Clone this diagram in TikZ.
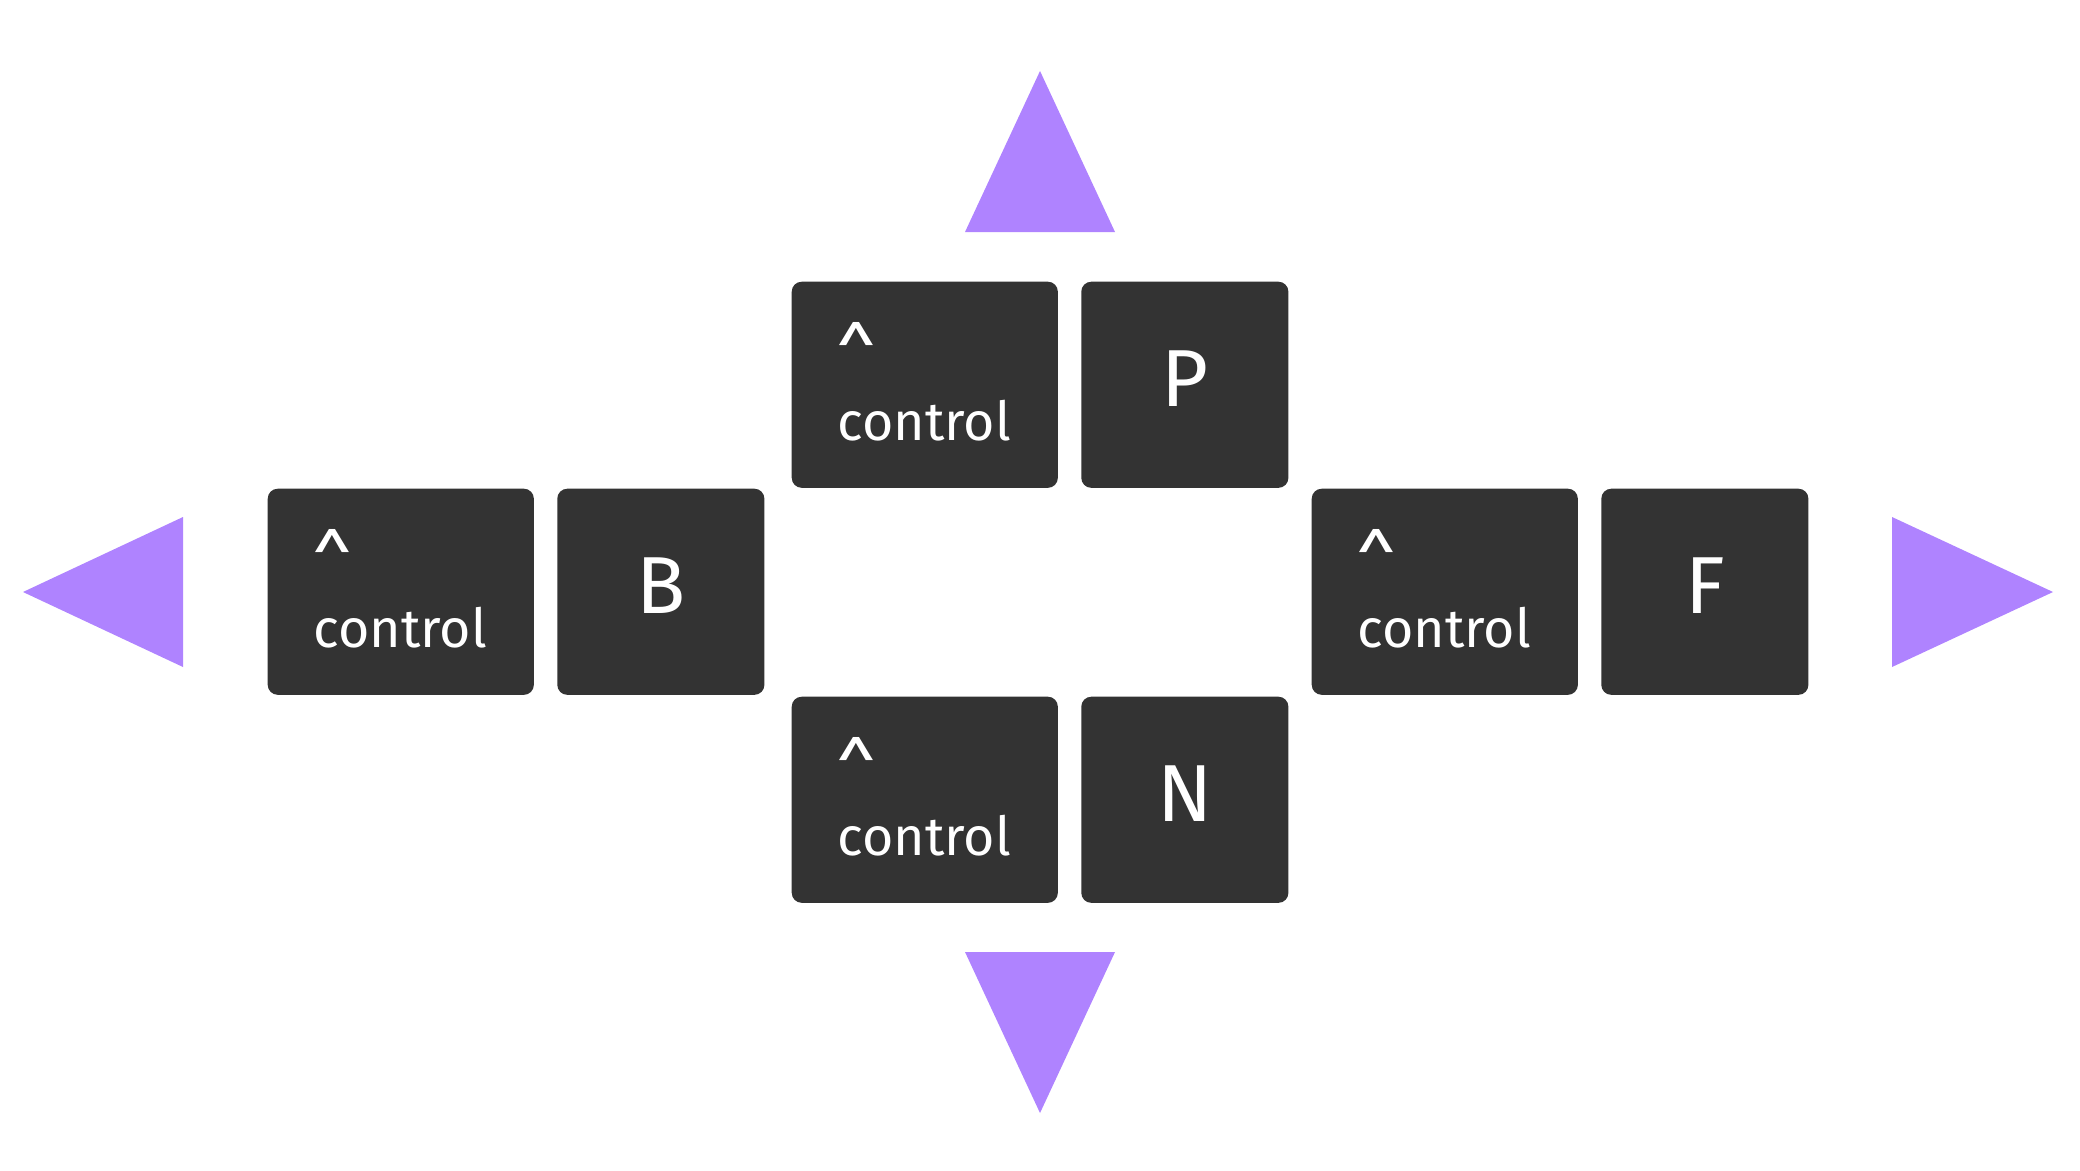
\documentclass[tikz,border=0pt]{standalone}
\usepackage{fontspec}
\setmainfont{Fira Sans}
\usetikzlibrary{positioning}
\definecolor{keygray}{RGB}{51,51,51}
\definecolor{arrowpurple}{RGB}{175,131,255}

\begin{document}
\begin{tikzpicture}[x=0.01cm, y=-0.01cm]
  \tikzset{key/.style={fill=keygray, rounded corners=0.1cm, inner sep=0pt,
                       minimum height=2.06cm, anchor=north west},
           ctrlkey/.style={key, minimum width=2.66cm},
           letterkey/.style={key, minimum width=2.07cm, text=white,
                             text depth=0.12cm, font=\fontsize{23}{23}\selectfont},
           caret/.style={anchor=north west, inner sep=0pt, text=white,
                         font=\fontsize{21}{21}\selectfont},
           ctrltext/.style={anchor=base west, inner sep=0pt, text=white,
                            font=\fontsize{15.3}{16}\selectfont},
           arrowhead/.style={fill=arrowpurple}}
  \useasboundingbox (0,0) rectangle (2080,1170);

  % control + letter pairs
  \foreach \k/\x/\y in {B/267/488, P/791/281, N/791/696, F/1311/488} {
    \node[ctrlkey] (ctrl\k) at (\x,\y) {};
    \node[caret] (caret\k) at ([shift={(45,41)}]ctrl\k.north west) {\textasciicircum};
    \node[ctrltext] (word\k) at ([shift={(46,159)}]ctrl\k.north west) {control};
    \node[letterkey, right=0.22cm of ctrl\k] (key\k) {\k};
  }

  % direction arrows
  \fill[arrowhead] (965,232) -- (1040,71) -- (1115,232) -- cycle;
  \fill[arrowhead] (965,952) -- (1040,1113) -- (1115,952) -- cycle;
  \fill[arrowhead] (183,517) -- (23,592) -- (183,667) -- cycle;
  \fill[arrowhead] (1892,517) -- (2053,592) -- (1892,667) -- cycle;
\end{tikzpicture}
\end{document}
